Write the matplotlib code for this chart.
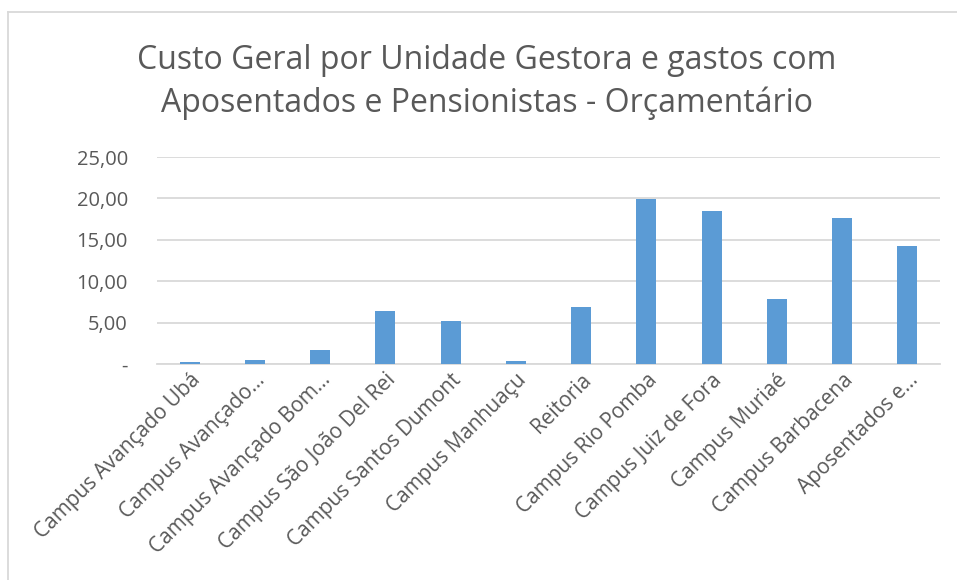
import matplotlib.pyplot as plt
from matplotlib.ticker import FuncFormatter
from matplotlib.lines import Line2D

categorias = ["Campus Avançado Ubá", "Campus Avançado...", "Campus Avançado Bom...",
              "Campus São João Del Rei", "Campus Santos Dumont", "Campus Manhuaçu",
              "Reitoria", "Campus Rio Pomba", "Campus Juiz de Fora", "Campus Muriaé",
              "Campus Barbacena", "Aposentados e..."]
valores = [0.28, 0.52, 1.69, 6.44, 5.15, 0.40, 6.92, 19.93, 18.52, 7.89, 17.67, 14.29]
yticks = [0, 5, 10, 15, 20, 25]

plt.rcParams['font.family'] = ['Open Sans', 'DejaVu Sans']
cinza = '#595959'

fig = plt.figure(figsize=(9.57, 5.8), dpi=100)
W, H = 957, 580
ax = fig.add_axes([157 / W, 1 - 364 / H, (940 - 157) / W, (364 - 157) / H])

ax.bar(range(len(valores)), valores, width=0.31, color='#5b9bd5', zorder=3)
ax.set_xlim(-0.5, len(valores) - 0.5)
ax.set_ylim(0, 25)
ax.set_yticks(yticks)
ax.yaxis.set_major_formatter(FuncFormatter(lambda v, p: '-' if v == 0 else f'{v:.2f}'.replace('.', ',')))
ax.grid(axis='y', color='#d9d9d9', linewidth=1.3, zorder=0)
for s in ['top', 'right', 'left']:
    ax.spines[s].set_visible(False)
ax.spines['bottom'].set_color('#d9d9d9')
ax.spines['bottom'].set_linewidth(1.3)
ax.tick_params(axis='both', length=0, colors=cinza)
ax.tick_params(axis='y', pad=21, labelsize=14.5)
ax.tick_params(axis='x', pad=4)
ax.set_xticks(range(len(categorias)))
ax.set_xticklabels(categorias, rotation=45, ha='right', rotation_mode='anchor', fontsize=15, color=cinza)

fig.text(487 / W, 1 - 82 / H, "Custo Geral por Unidade Gestora e gastos com\nAposentados e Pensionistas - Orçamentário",
         ha='center', va='center', fontsize=23, color=cinza, linespacing=1.36)

# borda do gráfico
fig.add_artist(Line2D([8 / W, 8 / W], [0, 1 - 12 / H], color='#d9d9d9', linewidth=1.3))
fig.add_artist(Line2D([8 / W, 1], [1 - 12 / H, 1 - 12 / H], color='#d9d9d9', linewidth=1.3))

fig.savefig('out.png', dpi=100)
